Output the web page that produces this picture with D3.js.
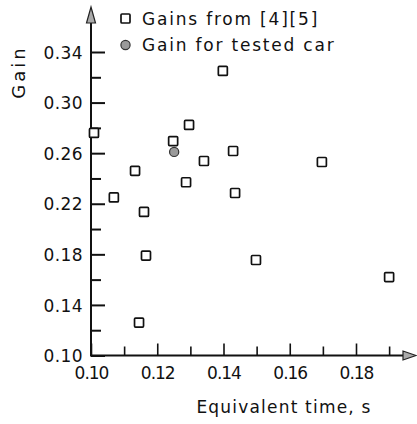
<!DOCTYPE html>
<html><head><meta charset="utf-8">
<script src="https://cdn.jsdelivr.net/npm/d3@7"></script>
<style>
html,body{margin:0;padding:0;background:#fff;}
svg{display:block;}
text{font-family:"DejaVu Sans",sans-serif;fill:#111;}
</style></head>
<body>
<script>
// ---- data ----
const xMajorTicks = [0.10, 0.12, 0.14, 0.16, 0.18];
const xMinorTicks = [0.11, 0.13, 0.15, 0.17, 0.19];
const yMajorTicks = [0.10, 0.14, 0.18, 0.22, 0.26, 0.30, 0.34];
const yMinorTicks = [0.12, 0.16, 0.20, 0.24, 0.28, 0.32];
const gainsX = [0.1009, 0.1069, 0.1133, 0.1145, 0.1160, 0.1166, 0.1248, 0.1287, 0.1296, 0.1341, 0.1398, 0.1429, 0.1435, 0.1498, 0.1697, 0.1900];
const gainsY = [0.276, 0.225, 0.246, 0.126, 0.2135, 0.179, 0.2696, 0.237, 0.2823, 0.2538, 0.325, 0.2617, 0.2285, 0.1755, 0.253, 0.162];
const testedX = [0.1251];
const testedY = [0.261];
const legendLabels = ["Gains from [4][5]", "Gain for tested car"];
const xTitle = "Equivalent time, s";
const yTitle = "Gain";

// ---- drawing ----
const W = 417, H = 424;
const svg = d3.select("body").append("svg").attr("width", W).attr("height", H);
const x = d3.scaleLinear().domain([0.10, 0.18]).range([91, 356]);
const y = d3.scaleLinear().domain([0.10, 0.34]).range([355.5, 52]);
const x0 = x(0.10), y0 = y(0.10);
const ink = "#111";

// axes lines
svg.append("line").attr("x1", x0).attr("x2", 405).attr("y1", y0).attr("y2", y0)
  .attr("stroke", ink).attr("stroke-width", 2);
svg.append("line").attr("x1", x0).attr("x2", x0).attr("y1", y0 + 1).attr("y2", 22)
  .attr("stroke", ink).attr("stroke-width", 2);
// arrows
svg.append("path").attr("d", `M${x0},7 L${x0 + 4.5},23 L${x0 - 4.5},23 Z`)
  .attr("fill", "#aaa").attr("stroke", "#222").attr("stroke-width", 1.2);
svg.append("path").attr("d", `M416,${y0} L403,${y0 - 4.5} L403,${y0 + 4.5} Z`)
  .attr("fill", "#aaa").attr("stroke", "#222").attr("stroke-width", 1.2);

// y axis: major ticks + labels
const yAxis = d3.axisLeft(y).tickValues(yMajorTicks).tickSizeInner(-14).tickSizeOuter(0)
  .tickPadding(22).tickFormat(d3.format(".2f"));
const gy = svg.append("g").attr("transform", `translate(${x0},0)`).call(yAxis);
gy.select(".domain").remove();
gy.selectAll(".tick line").attr("stroke", ink).attr("stroke-width", 2);
gy.selectAll(".tick text").attr("font-size", 17).attr("letter-spacing", 0.4)
  .attr("x", -8).attr("dy", "0.36em").style("font-family", '"DejaVu Sans",sans-serif');
const gym = svg.append("g").attr("transform", `translate(${x0},0)`)
  .call(d3.axisLeft(y).tickValues(yMinorTicks).tickSizeInner(-10).tickSizeOuter(0).tickFormat(""));
gym.select(".domain").remove();
gym.selectAll(".tick line").attr("stroke", ink).attr("stroke-width", 2);

// x axis
const xAxis = d3.axisBottom(x).tickValues(xMajorTicks).tickSizeInner(-12).tickSizeOuter(0)
  .tickFormat(d3.format(".2f"));
const gx = svg.append("g").attr("transform", `translate(0,${y0})`).call(xAxis);
gx.select(".domain").remove();
gx.selectAll(".tick line").attr("stroke", ink).attr("stroke-width", 1.6);
gx.selectAll(".tick text").attr("font-size", 17).attr("letter-spacing", -1)
  .attr("y", 11).attr("dy", "0.71em").style("font-family", '"DejaVu Sans",sans-serif');
const gxm = svg.append("g").attr("transform", `translate(0,${y0})`)
  .call(d3.axisBottom(x).tickValues(xMinorTicks).tickSizeInner(-9).tickSizeOuter(0).tickFormat(""));
gxm.select(".domain").remove();
gxm.selectAll(".tick line").attr("stroke", ink).attr("stroke-width", 1.6);

// axis titles
svg.append("text").attr("x", 284).attr("y", 413).attr("text-anchor", "middle")
  .attr("font-size", 17).attr("letter-spacing", 1.2).text(xTitle);
svg.append("text").attr("transform", "translate(25,72) rotate(-90)").attr("text-anchor", "middle")
  .attr("font-size", 18).attr("letter-spacing", 3).text(yTitle);

// data points
const gains = gainsX.map((d, i) => ({x: d, y: gainsY[i]}));
const tested = testedX.map((d, i) => ({x: d, y: testedY[i]}));
svg.append("g").selectAll("rect").data(gains).join("rect")
  .attr("x", d => x(d.x) - 4.5).attr("y", d => y(d.y) - 4.5)
  .attr("width", 9).attr("height", 9).attr("rx", 1)
  .attr("fill", "#fff").attr("stroke", ink).attr("stroke-width", 1.7);
svg.append("g").selectAll("circle").data(tested).join("circle")
  .attr("cx", d => x(d.x)).attr("cy", d => y(d.y)).attr("r", 4.6)
  .attr("fill", "#9a9a9a").attr("stroke", "#333").attr("stroke-width", 1.2);

// legend
svg.append("rect").attr("x", 121).attr("y", 14).attr("width", 9).attr("height", 9).attr("rx", 1)
  .attr("fill", "#fff").attr("stroke", ink).attr("stroke-width", 1.7);
svg.append("circle").attr("cx", 125.5).attr("cy", 45).attr("r", 4.6)
  .attr("fill", "#9a9a9a").attr("stroke", "#333").attr("stroke-width", 1.2);
svg.append("text").attr("x", 142).attr("y", 25).attr("font-size", 17).attr("letter-spacing", 1.8).text(legendLabels[0]);
svg.append("text").attr("x", 142).attr("y", 51).attr("font-size", 17).attr("letter-spacing", 1.8).text(legendLabels[1]);
</script>
</body></html>
